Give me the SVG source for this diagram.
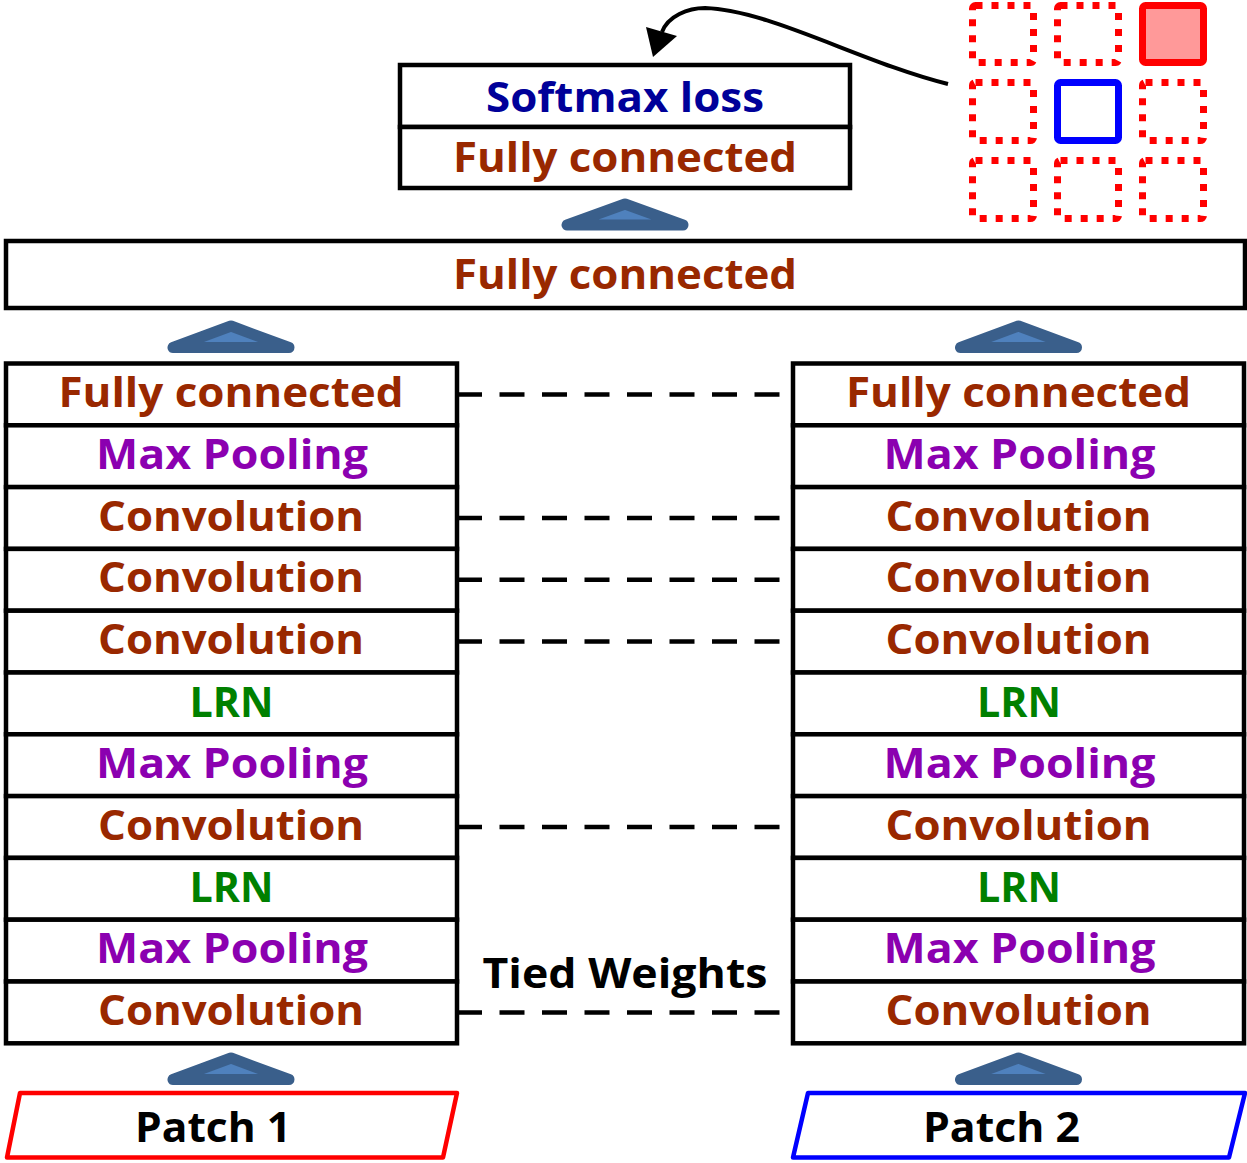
<svg xmlns="http://www.w3.org/2000/svg" width="1247" height="1163" viewBox="0 0 1247 1163">
<style>
.box{fill:#fff;stroke:#000;stroke-width:4.5}
.t{font-family:"Open Sans","Liberation Sans",sans-serif;font-weight:bold;font-size:42px;text-anchor:middle}
.fc{fill:#992800}.mp{fill:#8B00B0}.cv{fill:#992800}.lrn{fill:#008000}.sm{fill:#000099}.bk{fill:#000}
.tri{fill:#4F81BD;stroke:#3A5F8B;stroke-width:11;stroke-linejoin:round}
.dash{stroke:#000;stroke-width:4.5;stroke-dasharray:25 17.5;fill:none}
.dot{fill:none;stroke:#FF0000;stroke-width:7;stroke-dasharray:7 9}
</style>
<rect width="1247" height="1163" fill="#fff"/>

<g id="grid">
<rect class="dot" x="972.5" y="5.5" width="61" height="57" rx="3"/>
<rect class="dot" x="1057.5" y="5.5" width="61" height="57" rx="3"/>
<rect x="1142.5" y="5.5" width="61" height="57" rx="3" fill="#FF9999" stroke="#FF0000" stroke-width="7"/>
<rect class="dot" x="972.5" y="82.5" width="61" height="58" rx="3"/>
<rect x="1057.5" y="82.5" width="61" height="58" rx="3" fill="#fff" stroke="#0000FF" stroke-width="7"/>
<rect class="dot" x="1142.5" y="82.5" width="61" height="58" rx="3"/>
<rect class="dot" x="972.5" y="160.5" width="61" height="58" rx="3"/>
<rect class="dot" x="1057.5" y="160.5" width="61" height="58" rx="3"/>
<rect class="dot" x="1142.5" y="160.5" width="61" height="58" rx="3"/>
</g>

<g id="top-softmax">
<rect class="box" x="400" y="65" width="450" height="62"/>
<text class="t sm" x="625" y="112" textLength="278" lengthAdjust="spacingAndGlyphs">Softmax loss</text>
</g>
<g id="top-fc">
<rect class="box" x="400" y="127" width="450" height="61"/>
<text class="t fc" x="625" y="172" textLength="344" lengthAdjust="spacingAndGlyphs">Fully connected</text>
</g>

<g id="big-fc">
<rect class="box" x="6" y="241" width="1239" height="67"/>
<text class="t fc" x="625" y="289" textLength="344" lengthAdjust="spacingAndGlyphs">Fully connected</text>
</g>

<g id="left-stack">
<g id="l0"><rect class="box" x="6" y="363.5" width="451" height="61.8"/><text class="t fc" x="231" y="407" textLength="345" lengthAdjust="spacingAndGlyphs">Fully connected</text></g>
<g id="l1"><rect class="box" x="6" y="425.3" width="451" height="61.8"/><text class="t mp" x="232" y="468.8" textLength="272" lengthAdjust="spacingAndGlyphs">Max Pooling</text></g>
<g id="l2"><rect class="box" x="6" y="487.1" width="451" height="61.8"/><text class="t cv" x="231" y="530.6" textLength="266" lengthAdjust="spacingAndGlyphs">Convolution</text></g>
<g id="l3"><rect class="box" x="6" y="548.9" width="451" height="61.8"/><text class="t cv" x="231" y="592.4" textLength="266" lengthAdjust="spacingAndGlyphs">Convolution</text></g>
<g id="l4"><rect class="box" x="6" y="610.7" width="451" height="61.8"/><text class="t cv" x="231" y="654.2" textLength="266" lengthAdjust="spacingAndGlyphs">Convolution</text></g>
<g id="l5"><rect class="box" x="6" y="672.5" width="451" height="61.8"/><text class="t lrn" x="231.5" y="716.5" textLength="84" lengthAdjust="spacingAndGlyphs">LRN</text></g>
<g id="l6"><rect class="box" x="6" y="734.3" width="451" height="61.8"/><text class="t mp" x="232" y="777.8" textLength="272" lengthAdjust="spacingAndGlyphs">Max Pooling</text></g>
<g id="l7"><rect class="box" x="6" y="796.1" width="451" height="61.8"/><text class="t cv" x="231" y="839.6" textLength="266" lengthAdjust="spacingAndGlyphs">Convolution</text></g>
<g id="l8"><rect class="box" x="6" y="857.9" width="451" height="61.8"/><text class="t lrn" x="231.5" y="901.9" textLength="84" lengthAdjust="spacingAndGlyphs">LRN</text></g>
<g id="l9"><rect class="box" x="6" y="919.7" width="451" height="61.8"/><text class="t mp" x="232" y="963.2" textLength="272" lengthAdjust="spacingAndGlyphs">Max Pooling</text></g>
<g id="l10"><rect class="box" x="6" y="981.5" width="451" height="61.8"/><text class="t cv" x="231" y="1025" textLength="266" lengthAdjust="spacingAndGlyphs">Convolution</text></g>
</g>

<g id="right-stack">
<g id="r0"><rect class="box" x="793" y="363.5" width="451" height="61.8"/><text class="t fc" x="1018.5" y="407" textLength="345" lengthAdjust="spacingAndGlyphs">Fully connected</text></g>
<g id="r1"><rect class="box" x="793" y="425.3" width="451" height="61.8"/><text class="t mp" x="1019.5" y="468.8" textLength="272" lengthAdjust="spacingAndGlyphs">Max Pooling</text></g>
<g id="r2"><rect class="box" x="793" y="487.1" width="451" height="61.8"/><text class="t cv" x="1018.5" y="530.6" textLength="266" lengthAdjust="spacingAndGlyphs">Convolution</text></g>
<g id="r3"><rect class="box" x="793" y="548.9" width="451" height="61.8"/><text class="t cv" x="1018.5" y="592.4" textLength="266" lengthAdjust="spacingAndGlyphs">Convolution</text></g>
<g id="r4"><rect class="box" x="793" y="610.7" width="451" height="61.8"/><text class="t cv" x="1018.5" y="654.2" textLength="266" lengthAdjust="spacingAndGlyphs">Convolution</text></g>
<g id="r5"><rect class="box" x="793" y="672.5" width="451" height="61.8"/><text class="t lrn" x="1019" y="716.5" textLength="84" lengthAdjust="spacingAndGlyphs">LRN</text></g>
<g id="r6"><rect class="box" x="793" y="734.3" width="451" height="61.8"/><text class="t mp" x="1019.5" y="777.8" textLength="272" lengthAdjust="spacingAndGlyphs">Max Pooling</text></g>
<g id="r7"><rect class="box" x="793" y="796.1" width="451" height="61.8"/><text class="t cv" x="1018.5" y="839.6" textLength="266" lengthAdjust="spacingAndGlyphs">Convolution</text></g>
<g id="r8"><rect class="box" x="793" y="857.9" width="451" height="61.8"/><text class="t lrn" x="1019" y="901.9" textLength="84" lengthAdjust="spacingAndGlyphs">LRN</text></g>
<g id="r9"><rect class="box" x="793" y="919.7" width="451" height="61.8"/><text class="t mp" x="1019.5" y="963.2" textLength="272" lengthAdjust="spacingAndGlyphs">Max Pooling</text></g>
<g id="r10"><rect class="box" x="793" y="981.5" width="451" height="61.8"/><text class="t cv" x="1018.5" y="1025" textLength="266" lengthAdjust="spacingAndGlyphs">Convolution</text></g>
</g>

<g id="patch1">
<polygon points="20,1093 457,1093 443,1157.5 7,1157.5" fill="#fff" stroke="#FF0000" stroke-width="4.5" stroke-linejoin="round"/>
<text class="t bk" x="213" y="1142" textLength="156" lengthAdjust="spacingAndGlyphs">Patch 1</text>
</g>
<g id="patch2">
<polygon points="808,1093 1245,1093 1229,1157.5 793,1157.5" fill="#fff" stroke="#0000FF" stroke-width="4.5" stroke-linejoin="round"/>
<text class="t bk" x="1001.5" y="1142" textLength="157" lengthAdjust="spacingAndGlyphs">Patch 2</text>
</g>

<g id="tied-label">
<text class="t bk" x="625" y="988" textLength="285" lengthAdjust="spacingAndGlyphs">Tied Weights</text>
</g>

<g id="connectors">
<polygon class="tri" points="625,204 567,225 683,225"/>
<polygon class="tri" points="231,326 173,347.5 289,347.5"/>
<polygon class="tri" points="1018.5,326 960.5,347.5 1076.5,347.5"/>
<polygon class="tri" points="231,1058 173,1079.5 289,1079.5"/>
<polygon class="tri" points="1018.5,1058 960.5,1079.5 1076.5,1079.5"/>
<line class="dash" x1="457" y1="394.4" x2="780" y2="394.4"/>
<line class="dash" x1="457" y1="518" x2="780" y2="518"/>
<line class="dash" x1="457" y1="579.8" x2="780" y2="579.8"/>
<line class="dash" x1="457" y1="641.6" x2="780" y2="641.6"/>
<line class="dash" x1="457" y1="827" x2="780" y2="827"/>
<line class="dash" x1="457" y1="1012.4" x2="780" y2="1012.4"/>
<path d="M948,84 C860,62 770,10 705,8 C688,8 668,16 662,32" fill="none" stroke="#000" stroke-width="4"/>
<polygon points="653,57 646,27 677,36" fill="#000"/>
</g>
</svg>
